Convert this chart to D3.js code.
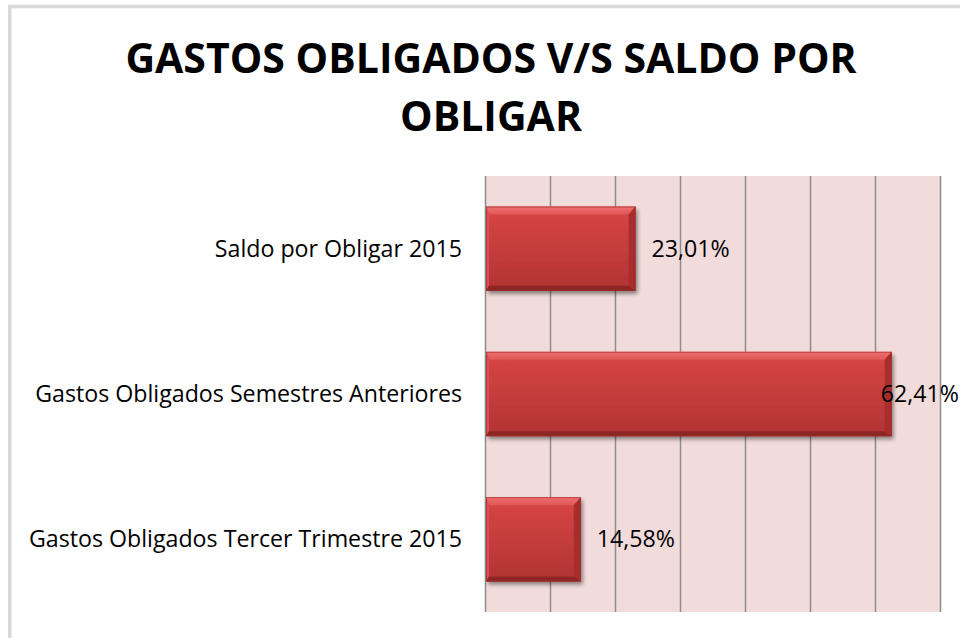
<!DOCTYPE html>
<html>
<head>
<meta charset="utf-8">
<script src="https://cdn.jsdelivr.net/npm/d3@7"></script>
<style>
  html, body { margin: 0; padding: 0; background: #ffffff; }
  svg { display: block; }
</style>
</head>
<body>
<svg id="chart" width="960" height="638"></svg>
<script>
// ---- data ----
const titleLines = ["GASTOS OBLIGADOS V/S SALDO POR", "OBLIGAR"];
const categories = [
  "Saldo por Obligar 2015",
  "Gastos Obligados Semestres Anteriores",
  "Gastos Obligados Tercer Trimestre 2015"
];
const values = [23.01, 62.41, 14.58];
const valueLabels = ["23,01%", "62,41%", "14,58%"];
const gridTicks = [0, 10, 20, 30, 40, 50, 60, 70];

// ---- layout ----
const W = 960, H = 638;
const plot = { left: 486, right: 941, top: 176, bottom: 612 };
const chartRight = 959;
const font = "'Open Sans', 'Noto Sans', sans-serif";

const svg = d3.select("#chart");
const defs = svg.append("defs");

// gradients / filters
const grad = defs.append("linearGradient").attr("id", "barGrad")
  .attr("x1", 0).attr("y1", 0).attr("x2", 0).attr("y2", 1);
grad.append("stop").attr("offset", "0%").attr("stop-color", "#d84646");
grad.append("stop").attr("offset", "100%").attr("stop-color", "#b23333");

const topGrad = defs.append("linearGradient").attr("id", "topGrad")
  .attr("x1", 0).attr("y1", 0).attr("x2", 0).attr("y2", 1);
topGrad.append("stop").attr("offset", "0%").attr("stop-color", "#f07070");
topGrad.append("stop").attr("offset", "100%").attr("stop-color", "#e05757");

const sh = defs.append("filter").attr("id", "shadow")
  .attr("x", "-10%").attr("y", "-10%").attr("width", "130%").attr("height", "140%");
sh.append("feGaussianBlur").attr("in", "SourceAlpha").attr("stdDeviation", 2.2).attr("result", "b");
sh.append("feOffset").attr("in", "b").attr("dx", 2).attr("dy", 3).attr("result", "o");
sh.append("feComponentTransfer").attr("in", "o").attr("result", "oa")
  .append("feFuncA").attr("type", "linear").attr("slope", 0.45);
const mg = sh.append("feMerge");
mg.append("feMergeNode").attr("in", "oa");
mg.append("feMergeNode").attr("in", "SourceGraphic");

// chart frame
svg.append("rect")
  .attr("x", 9.75).attr("y", 6.5)
  .attr("width", W + 20).attr("height", H + 20)
  .attr("fill", "#ffffff")
  .attr("stroke", "#d9d9d9").attr("stroke-width", 3.5);

// title
svg.append("g").selectAll("text").data(titleLines).join("text")
  .attr("x", 491)
  .attr("y", (d, i) => 73 + i * 58)
  .attr("text-anchor", "middle")
  .attr("font-family", font)
  .attr("font-weight", "bold")
  .attr("font-size", 41)
  .attr("fill", "#000")
  .text(d => d);

// scales
const x = d3.scaleLinear().domain([0, 70]).range([plot.left, plot.right]);
const y = d3.scaleBand().domain(categories).range([plot.top, plot.bottom])
  .paddingInner(0.42).paddingOuter(0.21);

// plot background
svg.append("rect")
  .attr("x", plot.left).attr("y", plot.top)
  .attr("width", plot.right - plot.left).attr("height", plot.bottom - plot.top)
  .attr("fill", "#f2dcdb");

// gridlines
svg.append("g").selectAll("line").data(gridTicks).join("line")
  .attr("x1", d => Math.round(x(d)) - 0.5).attr("x2", d => Math.round(x(d)) - 0.5)
  .attr("y1", plot.top).attr("y2", plot.bottom)
  .attr("stroke", "#8c8c8c").attr("stroke-width", 1.5);

// category labels
svg.append("g").selectAll("text").data(categories).join("text")
  .attr("x", 462)
  .attr("y", d => y(d) + y.bandwidth() / 2)
  .attr("dy", "0.35em")
  .attr("text-anchor", "end")
  .attr("font-family", font)
  .attr("font-size", 23.2)
  .attr("fill", "#000")
  .text(d => d);

// bars
const data = categories.map((c, i) => ({ c, v: values[i], label: valueLabels[i] }));
const bars = svg.append("g").selectAll("g").data(data).join("g");

bars.append("rect")
  .attr("x", x(0)).attr("y", d => y(d.c))
  .attr("width", d => x(d.v) - x(0)).attr("height", y.bandwidth())
  .attr("fill", "url(#barGrad)")
  .attr("filter", "url(#shadow)");

const bt = 8, bb = 5, bl = 3, br = 7;
// top bevel
bars.append("path").attr("fill", "url(#topGrad)")
  .attr("d", d => {
    const x0 = x(0), x1 = x(d.v), y0 = y(d.c);
    return `M${x0},${y0}L${x1},${y0}L${x1 - br},${y0 + bt}L${x0 + bl},${y0 + bt}Z`;
  });
// left bevel
bars.append("path").attr("fill", "#d95050")
  .attr("d", d => {
    const x0 = x(0), y0 = y(d.c), y1 = y0 + y.bandwidth();
    return `M${x0},${y0}L${x0 + bl},${y0 + bt}L${x0 + bl},${y1 - bb}L${x0},${y1}Z`;
  });
// right bevel
bars.append("path").attr("fill", "#a82e2e")
  .attr("d", d => {
    const x1 = x(d.v), y0 = y(d.c), y1 = y0 + y.bandwidth();
    return `M${x1},${y0}L${x1},${y1}L${x1 - br},${y1 - bb}L${x1 - br},${y0 + bt}Z`;
  });
// bottom bevel
bars.append("path").attr("fill", "#8e2626")
  .attr("d", d => {
    const x0 = x(0), x1 = x(d.v), y1 = y(d.c) + y.bandwidth();
    return `M${x0},${y1}L${x1},${y1}L${x1 - br},${y1 - bb}L${x0 + bl},${y1 - bb}Z`;
  });
// thin outline
bars.append("rect")
  .attr("x", x(0) + 0.5).attr("y", d => y(d.c) + 0.5)
  .attr("width", d => x(d.v) - x(0) - 1).attr("height", y.bandwidth() - 1)
  .attr("fill", "none").attr("stroke", "#9c2a2a").attr("stroke-opacity", 0.6).attr("stroke-width", 1);

// value labels
const vl = svg.append("g").selectAll("text").data(data).join("text")
  .attr("y", d => y(d.c) + y.bandwidth() / 2)
  .attr("dy", "0.35em")
  .attr("font-family", font)
  .attr("font-size", 23.2)
  .attr("fill", "#000")
  .text(d => d.label);
vl.attr("x", function(d) {
  const w = this.getComputedTextLength();
  return Math.min(x(d.v) + 16, chartRight - w);
});
</script>
</body>
</html>
